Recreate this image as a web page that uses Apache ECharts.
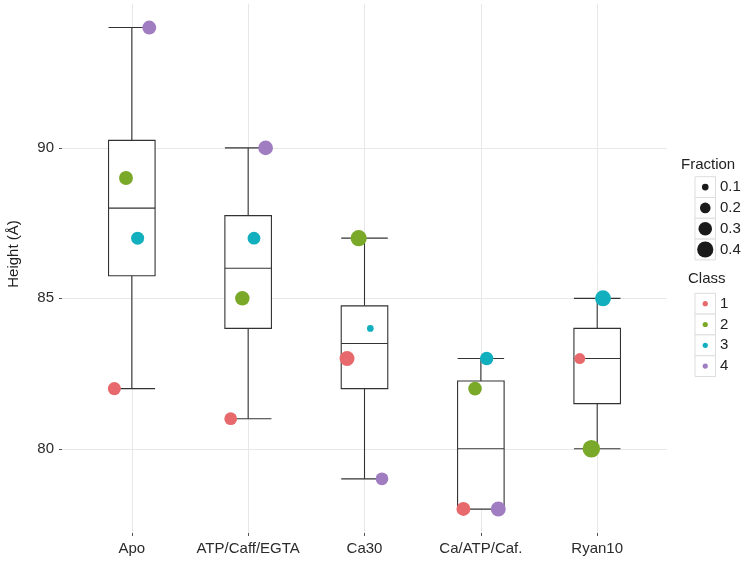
<!DOCTYPE html>
<html><head><meta charset="utf-8">
<script src="https://cdn.jsdelivr.net/npm/echarts@6/dist/echarts.min.js"></script>
<style>html,body{margin:0;padding:0;background:#fff}#chart{width:750px;height:563px}</style>
</head><body><div id="chart"></div>
<script>
// ---- data ----
const categories = ['Apo', 'ATP/Caff/EGTA', 'Ca30', 'Ca/ATP/Caf.', 'Ryan10'];
const classNames = ['1', '2', '3', '4'];
const class1Height = [82, 81, 83, 78, 83];
const class2Height = [89, 85, 87, 82, 80];
const class3Height = [87, 87, 84, 83, 85];
const class4Height = [94, 90, 79, 78, null];
const class1Fraction = [0.28, 0.27, 0.35, 0.31, 0.21];
const class2Fraction = [0.31, 0.33, 0.40, 0.30, 0.46];
const class3Fraction = [0.28, 0.27, 0.10, 0.29, 0.39];
const class4Fraction = [0.31, 0.34, 0.27, 0.35, null];
const yTickValues = [80, 85, 90];
const fractionBreaks = [0.1, 0.2, 0.3, 0.4];
const yTitle = 'Height (Å)';

// ---- styling ----
const classColors = ['#E8696B', '#7AA828', '#12AFBE', '#A07CC0'];
const FONT = '"Liberation Sans", Arial, Helvetica, sans-serif';
const boxWidth = 0.4;
const dodgeWidth = 0.4;
function sizeOf(f) { return 30 * Math.sqrt(f) - 2.8; }

const heights = [class1Height, class2Height, class3Height, class4Height];
const fractions = [class1Fraction, class2Fraction, class3Fraction, class4Fraction];

function quantile(sorted, p) {
  const h = (sorted.length - 1) * p;
  const lo = Math.floor(h), hi = Math.ceil(h);
  return sorted[lo] + (h - lo) * (sorted[hi] - sorted[lo]);
}
const boxData = categories.map((c, i) => {
  const vals = heights.map(h => h[i]).filter(v => v != null).sort((a, b) => a - b);
  const q1 = quantile(vals, 0.25), med = quantile(vals, 0.5), q3 = quantile(vals, 0.75);
  const iqr = q3 - q1;
  const lo = Math.min(...vals.filter(v => v >= q1 - 1.5 * iqr));
  const hi = Math.max(...vals.filter(v => v <= q3 + 1.5 * iqr));
  return [i + 1, lo, q1, med, q3, hi];
});
const allVals = heights.flat().filter(v => v != null);
const dMin = Math.min(...allVals), dMax = Math.max(...allVals);
const yMin = dMin - 0.05 * (dMax - dMin), yMax = dMax + 0.05 * (dMax - dMin);

const scatterSeries = classNames.map((name, k) => ({
  type: 'scatter',
  name: name,
  z: 5,
  symbol: 'circle',
  itemStyle: { color: classColors[k], opacity: 1 },
  symbolSize: v => sizeOf(v[2]),
  data: categories.map((c, i) => heights[k][i] == null ? null :
    [i + 1 + (k - 1.5) * dodgeWidth / 4, heights[k][i], fractions[k][i]]).filter(d => d)
}));

const boxSeries = {
  type: 'custom',
  z: 2,
  data: boxData,
  encode: { x: 0, y: [1, 2, 3, 4, 5] },
  renderItem: function (params, api) {
    const x = api.value(0), mn = api.value(1), q1 = api.value(2), md = api.value(3), q3 = api.value(4), mx = api.value(5);
    const hw = boxWidth / 2;
    const st = { stroke: '#333333', lineWidth: 1.1, fill: null };
    const line = (a, b) => ({ type: 'line', shape: { x1: a[0], y1: a[1], x2: b[0], y2: b[1] }, style: st });
    const tl = api.coord([x - hw, q3]), br = api.coord([x + hw, q1]);
    return {
      type: 'group',
      children: [
        line(api.coord([x, q3]), api.coord([x, mx])),
        line(api.coord([x, q1]), api.coord([x, mn])),
        line(api.coord([x - hw, mx]), api.coord([x + hw, mx])),
        line(api.coord([x - hw, mn]), api.coord([x + hw, mn])),
        { type: 'rect', shape: { x: tl[0], y: tl[1], width: br[0] - tl[0], height: br[1] - tl[1] },
          style: { stroke: '#333333', lineWidth: 1.1, fill: '#ffffff' } },
        line(api.coord([x - hw, md]), api.coord([x + hw, md]))
      ]
    };
  }
};

// ---- legend + axis title (graphic) ----
const graphics = [];
const keyW = 20.5, keyH = 20.8, keyX = 695;
const LFONT = '15px ' + FONT;
graphics.push({ type: 'text', x: 14, y: 254, rotation: Math.PI / 2,
  style: { text: yTitle, font: LFONT, fill: '#222', align: 'center', verticalAlign: 'middle' } });
graphics.push({ type: 'text', x: 681, y: 165, style: { text: 'Fraction', font: LFONT, fill: '#222', verticalAlign: 'middle' } });
fractionBreaks.forEach((f, i) => {
  const top = 176.7 + i * keyH;
  graphics.push({ type: 'rect', shape: { x: keyX, y: top, width: keyW, height: keyH }, style: { fill: '#fff', stroke: '#dddddd', lineWidth: 1 } });
  graphics.push({ type: 'circle', shape: { cx: keyX + keyW / 2, cy: top + keyH / 2, r: sizeOf(f) / 2 }, style: { fill: '#1a1a1a' } });
  graphics.push({ type: 'text', x: 720, y: top + keyH / 2, style: { text: String(f), font: LFONT, fill: '#222', verticalAlign: 'middle' } });
});
graphics.push({ type: 'text', x: 688, y: 278.5, style: { text: 'Class', font: LFONT, fill: '#222', verticalAlign: 'middle' } });
classNames.forEach((n, i) => {
  const top = 293.3 + i * keyH;
  graphics.push({ type: 'rect', shape: { x: keyX, y: top, width: keyW, height: keyH }, style: { fill: '#fff', stroke: '#dddddd', lineWidth: 1 } });
  graphics.push({ type: 'circle', shape: { cx: keyX + keyW / 2, cy: top + keyH / 2, r: 2.6 }, style: { fill: classColors[i] } });
  graphics.push({ type: 'text', x: 720, y: top + keyH / 2, style: { text: n, font: LFONT, fill: '#222', verticalAlign: 'middle' } });
});

const chart = echarts.init(document.getElementById('chart'), null, { renderer: 'canvas' });
chart.setOption({
  animation: false,
  backgroundColor: '#ffffff',
  textStyle: { fontFamily: FONT },
  grid: { left: 62, right: 83, top: 3.5, bottom: 30, containLabel: false, outerBoundsMode: 'none' },
  xAxis: {
    type: 'value', min: 0.4, max: 5.6,
    axisLine: { show: false },
    axisTick: { show: true, length: 3, lineStyle: { color: '#555' }, customValues: categories.map((c, i) => i + 1) },
    axisLabel: { customValues: categories.map((c, i) => i + 1), formatter: v => categories[Math.round(v) - 1] || '',
      fontSize: 15, color: '#2b2b2b', margin: 8, fontFamily: FONT },
    splitLine: { show: true, lineStyle: { color: '#e8e8e8', width: 1 } }
  },
  yAxis: {
    type: 'value', min: yMin, max: yMax,
    axisLine: { show: false },
    axisTick: { show: true, length: 3, lineStyle: { color: '#555' }, customValues: yTickValues },
    axisLabel: { customValues: yTickValues, fontSize: 15, color: '#2b2b2b', margin: 8, fontFamily: FONT },
    splitLine: { show: true, lineStyle: { color: '#e8e8e8', width: 1 } }
  },
  graphic: graphics,
  series: [boxSeries].concat(scatterSeries)
});
</script>
</body></html>
